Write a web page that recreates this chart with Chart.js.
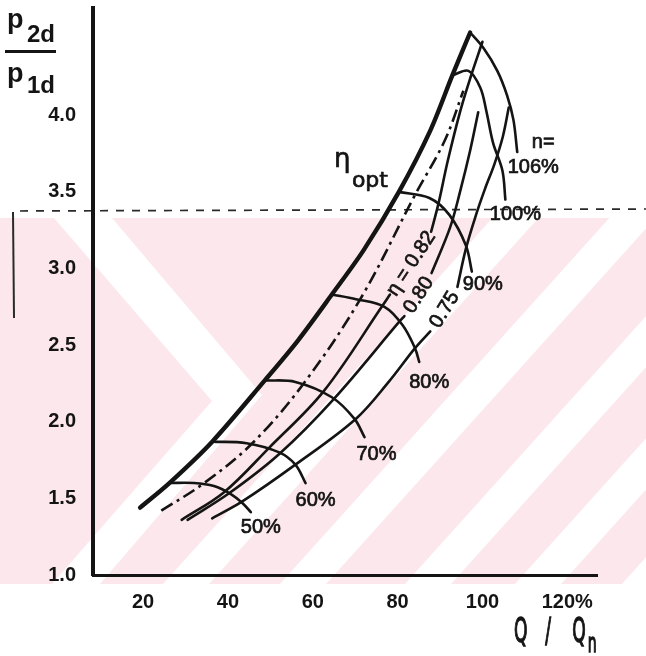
<!DOCTYPE html>
<html><head><meta charset="utf-8">
<script src="https://cdn.jsdelivr.net/npm/chart.js@4"></script>
<style>html,body{margin:0;padding:0;background:#fff}#wrap{width:646px;height:656px}</style>
</head><body><div id="wrap"><canvas id="c" width="646" height="656"></canvas></div>
<script>
// ---- data (Q/Qn in %, p2d/p1d) ----
const xTicks = [20, 40, 60, 80, 100, 120];
const yTicks = [1.0, 1.5, 2.0, 2.5, 3.0, 3.5, 4.0];

const surgeQ = [19.3, 26.2, 36.3, 48.7, 56.5, 64.5, 72.0, 80.3, 87.7, 92.9, 97.1];
const surgeP = [1.44, 1.60, 1.87, 2.27, 2.53, 2.83, 3.12, 3.50, 3.90, 4.26, 4.54];

const speedNames = ['50%', '60%', '70%', '80%', '90%', '100%', '106%'];
const n50Q = [26.2, 32.0, 36.7, 40.6, 43.4, 45.4];
const n50P = [1.60, 1.60, 1.58, 1.53, 1.47, 1.41];
const n60Q = [36.3, 44.4, 52.1, 55.9, 58.3];
const n60P = [1.87, 1.86, 1.80, 1.72, 1.60];
const n70Q = [48.7, 55.9, 64.5, 69.8, 72.2];
const n70P = [2.27, 2.26, 2.16, 2.02, 1.90];
const n80Q = [64.5, 70.2, 76.9, 81.2, 84.1, 85.1];
const n80P = [2.83, 2.80, 2.75, 2.63, 2.48, 2.39];
const n90Q = [80.3, 87.5, 92.2, 96.1, 97.5];
const n90P = [3.50, 3.46, 3.35, 3.15, 2.98];
const n100Q = [92.9, 96.7, 99.5, 100.9, 102.5, 104.7, 105.4];
const n100P = [4.26, 4.29, 4.18, 4.03, 3.82, 3.64, 3.45];
const n106Q = [97.1, 100.2, 103.5, 105.8, 107.3, 108.2];
const n106P = [4.54, 4.44, 4.29, 4.13, 3.97, 3.76];

const etaNames = ['η = 0.82', '0.80', '0.75'];
const etaOptQ = [24.3, 33.9, 45.4, 57.6, 71.2, 84.1, 91.2, 95.5];
const etaOptP = [1.42, 1.59, 1.85, 2.24, 2.80, 3.48, 3.84, 4.16];
const eta82LowQ = [29.1, 39.1, 49.7, 62.6, 76.5, 78.2];
const eta82LowP = [1.36, 1.54, 1.83, 2.20, 2.76, 2.83];
const eta82HighQ = [87.9, 89.6, 91.8, 94.8, 97.1, 100.0];
const eta82HighP = [3.24, 3.42, 3.70, 4.03, 4.24, 4.48];
const eta80LowQ = [30.5, 40.1, 52.1, 65.0, 80.3, 81.6];
const eta80LowP = [1.36, 1.53, 1.79, 2.15, 2.65, 2.69];
const eta80HighQ = [88.0, 92.4, 94.8, 97.1, 99.0];
const eta80HighP = [2.97, 3.27, 3.51, 3.77, 4.02];
const eta75LowQ = [36.3, 43.4, 55.9, 70.2, 77.9, 84.1, 87.7];
const eta75LowP = [1.37, 1.48, 1.72, 2.02, 2.26, 2.48, 2.59];
const eta75HighQ = [94.1, 96.1, 98.6, 100.6, 102.8, 104.8, 106.2];
const eta75HighP = [2.88, 3.13, 3.36, 3.52, 3.68, 3.86, 4.05];

// ---- build ----
const ink = '#141414';
const pts = (q, p) => q.map((v, i) => ({ x: v, y: p[i] }));
function line(label, q, p, width, extra) {
  return Object.assign({
    label, data: pts(q, p), borderColor: ink, borderWidth: width,
    pointRadius: 0, fill: false, tension: 0.35,
    borderCapStyle: 'round', borderJoinStyle: 'round'
  }, extra || {});
}
const speedQ = [n50Q, n60Q, n70Q, n80Q, n90Q, n100Q, n106Q];
const speedP = [n50P, n60P, n70P, n80P, n90P, n100P, n106P];
const etaLow = [[eta82LowQ, eta82LowP], [eta80LowQ, eta80LowP], [eta75LowQ, eta75LowP]];
const etaHigh = [[eta82HighQ, eta82HighP], [eta80HighQ, eta80HighP], [eta75HighQ, eta75HighP]];

const datasets = [
  line('surge', surgeQ, surgeP, 4.4, { tension: 0.3 }),
  line('η opt', etaOptQ, etaOptP, 2.6, { borderDash: [13, 5, 3, 5], borderCapStyle: 'butt' })
];
etaNames.forEach((n, i) => {
  datasets.push(line(n + ' a', etaLow[i][0], etaLow[i][1], 2.6));
  datasets.push(line(n + ' b', etaHigh[i][0], etaHigh[i][1], 2.6));
});
speedNames.forEach((n, i) => datasets.push(line('n ' + n, speedQ[i], speedP[i], 2.6)));

// ---- plugins ----
const backdrop = {
  id: 'backdrop',
  beforeDraw(chart) {
    const ctx = chart.ctx;
    const top = 218, bot = 584, k = 0.9, w = 46;
    ctx.save();
    ctx.fillStyle = '#fff';
    ctx.fillRect(0, 0, chart.width, chart.height);
    ctx.beginPath(); ctx.rect(0, top, chart.width, bot - top); ctx.clip();
    ctx.fillStyle = '#fce8ec';
    ctx.fillRect(0, top, chart.width, bot - top);
    ctx.fillStyle = '#fff';
    // chevron
    ctx.beginPath();
    ctx.moveTo(54, top); ctx.lineTo(112, top); ctx.lineTo(262, 395);
    ctx.lineTo(100, bot); ctx.lineTo(52, bot); ctx.lineTo(212, 401);
    ctx.closePath(); ctx.fill();
    // diagonal stripes
    [163, 280, 405, 515, 622].forEach(x0 => {
      const h = bot - top;
      ctx.beginPath();
      ctx.moveTo(x0, bot); ctx.lineTo(x0 + w, bot);
      ctx.lineTo(x0 + w + k * h, top); ctx.lineTo(x0 + k * h, top);
      ctx.closePath(); ctx.fill();
    });
    ctx.restore();
    // scan marks
    ctx.save();
    ctx.strokeStyle = '#2a2a2a'; ctx.lineWidth = 1.7;
    ctx.setLineDash([8, 8]);
    ctx.beginPath(); ctx.moveTo(20, 211); ctx.lineTo(646, 209); ctx.stroke();
    ctx.setLineDash([]);
    ctx.lineWidth = 2;
    ctx.beginPath(); ctx.moveTo(13, 212); ctx.lineTo(14, 318); ctx.stroke();
    ctx.restore();
  }
};

function label(ctx, text, x, y) {
  ctx.strokeText(text, x, y);
  ctx.fillText(text, x, y);
}

const annotate = {
  id: 'annotate',
  afterDraw(chart) {
    const ctx = chart.ctx, xs = chart.scales.x, ys = chart.scales.y;
    const px = (q, p) => [xs.getPixelForValue(q), ys.getPixelForValue(p)];
    ctx.save();
    ctx.fillStyle = ink; ctx.strokeStyle = ink; ctx.lineWidth = 0.7;
    ctx.textAlign = 'center'; ctx.textBaseline = 'middle';
    // speed labels at end of each speed line
    const offs = [[10, 15], [10, 17], [12, 17], [10, 20], [11, 13], [10, 15], [16, 15]];
    ctx.font = '20px "Liberation Sans"';
    speedNames.forEach((n, i) => {
      const q = speedQ[i], p = speedP[i];
      const [x, y] = px(q[q.length - 1], p[p.length - 1]);
      label(ctx, n, x + offs[i][0], y + offs[i][1]);
      if (i === speedNames.length - 1) label(ctx, 'n=', x + 26, y - 10);
    });
    // efficiency labels in the gaps
    etaNames.forEach((n, i) => {
      const lq = etaLow[i][0], lp = etaLow[i][1];
      const [x1, y1] = px(lq[lq.length - 1], lp[lp.length - 1]);
      const [x2, y2] = px(etaHigh[i][0][0], etaHigh[i][1][0]);
      ctx.save();
      ctx.translate((x1 + x2) / 2, (y1 + y2) / 2);
      ctx.rotate(Math.atan2(y2 - y1, x2 - x1));
      label(ctx, n, 0, 1);
      ctx.restore();
    });
    // eta_opt label left of surge line
    const [sx, sy] = px(surgeQ[7], surgeP[7]);
    ctx.textAlign = 'left'; ctx.textBaseline = 'alphabetic';
    ctx.font = '26px "DejaVu Sans"';
    label(ctx, 'η', sx - 65, sy - 25);
    ctx.font = '22px "DejaVu Sans"';
    label(ctx, 'opt', sx - 47, sy - 5);
    // axis titles
    ctx.font = 'bold 27px "Liberation Sans"';
    ctx.fillText('p', 7, 28);
    ctx.fillText('p', 7, 82);
    ctx.font = 'bold 24px "Liberation Sans"';
    ctx.fillText('2d', 27, 42);
    ctx.fillText('1d', 27, 93);
    ctx.fillRect(5, 50, 51, 3);
    ctx.save();
    ctx.translate(514, 642);
    ctx.scale(0.52, 1);
    ctx.lineWidth = 1.4;
    ctx.font = '33px "DejaVu Sans"';
    label(ctx, 'Q', 0, 0);
    label(ctx, '/', 60, 0);
    label(ctx, 'Q', 112, 0);
    ctx.font = '27px "DejaVu Sans"';
    label(ctx, 'n', 142, 10);
    ctx.restore();
    ctx.restore();
  }
};

new Chart(document.getElementById('c'), {
  type: 'line',
  data: { datasets },
  options: {
    responsive: false, animation: false, devicePixelRatio: 1,
    layout: { autoPadding: false, padding: { left: 0, top: 8, right: 49, bottom: 0 } },
    plugins: { legend: { display: false }, tooltip: { enabled: false } },
    scales: {
      x: {
        type: 'linear', min: 8.2, max: 127,
        grid: { display: false, drawTicks: false },
        border: { display: true, width: 3, color: ink },
        afterBuildTicks: s => { s.ticks = xTicks.map(v => ({ value: v })); },
        afterFit: s => { s.height = 81; s.paddingLeft = 0; s.paddingRight = 0; s.paddingTop = 0; s.paddingBottom = 0; },
        ticks: {
          padding: 15, color: ink, maxRotation: 0,
          font: { family: 'Liberation Sans', weight: 'bold', size: 20 },
          callback: v => v === 120 ? '120%' : String(v)
        }
      },
      y: {
        type: 'linear', min: 1.0, max: 4.7,
        grid: { display: false, drawTicks: false },
        border: { display: true, width: 4, color: ink },
        afterBuildTicks: s => { s.ticks = yTicks.map(v => ({ value: v })); },
        afterFit: s => { s.width = 93; s.paddingLeft = 0; s.paddingRight = 0; s.paddingTop = 0; s.paddingBottom = 0; },
        ticks: {
          padding: 17, color: ink,
          font: { family: 'Liberation Sans', weight: 'bold', size: 20 },
          callback: v => v.toFixed(1)
        }
      }
    }
  },
  plugins: [backdrop, annotate]
});
</script>
</body></html>
